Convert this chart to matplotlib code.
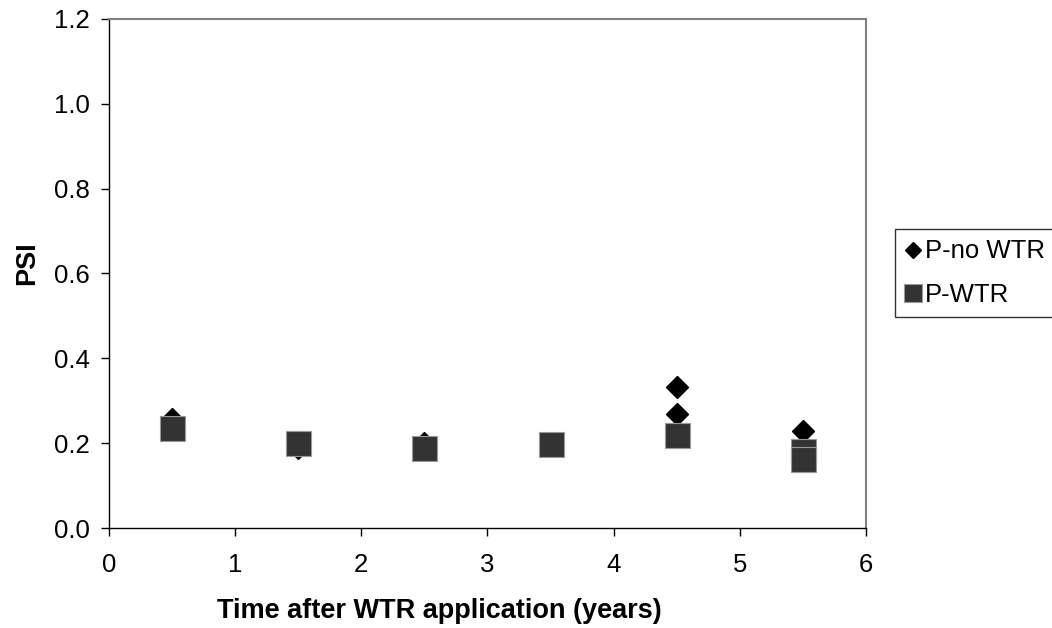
import matplotlib.pyplot as plt

# PSI over time, two treatments (repeat samples share the same time)
time_no_wtr = [0.5, 1.5, 2.5, 3.5, 4.5, 4.5, 5.5]
psi_no_wtr = [0.256, 0.19, 0.20, 0.20, 0.332, 0.27, 0.228]
time_wtr = [0.5, 1.5, 2.5, 3.5, 4.5, 5.5, 5.5]
psi_wtr = [0.235, 0.20, 0.188, 0.198, 0.22, 0.182, 0.163]

plt.rcParams['font.family'] = ['Liberation Sans', 'DejaVu Sans']

fig = plt.figure(figsize=(10.52, 6.28), dpi=100)
ax = fig.add_axes([0.1036, 0.159, 0.7196, 0.811])

ax.plot(time_no_wtr, psi_no_wtr, linestyle='none', marker='D', markersize=11.5,
        color='black', markeredgecolor='black', label='P-no WTR', zorder=3)
ax.plot(time_wtr, psi_wtr, linestyle='none', marker='s', markersize=18,
        color='#333333', markeredgecolor='#999999', markeredgewidth=0.8,
        label='P-WTR', zorder=4)

ax.set_xlim(0, 6)
ax.set_ylim(0, 1.2)
ax.set_xticks(range(0, 7))
ax.set_yticks([0.0, 0.2, 0.4, 0.6, 0.8, 1.0, 1.2])
ax.set_yticklabels(['0.0', '0.2', '0.4', '0.6', '0.8', '1.0', '1.2'])
ax.tick_params(direction='out', length=6, width=1, labelsize=18.5, color='black')
ax.tick_params(axis='x', pad=12)
ax.tick_params(axis='y', pad=8)

for side in ['top', 'right']:
    ax.spines[side].set_color('#808080')
    ax.spines[side].set_linewidth(1.5)
for side in ['left', 'bottom']:
    ax.spines[side].set_color('black')
    ax.spines[side].set_linewidth(1)

ax.set_xlabel('Time after WTR application (years)', fontsize=19.5, fontweight='bold')
ax.set_ylabel('PSI', fontsize=19.5, fontweight='bold')
ax.xaxis.set_label_coords(0.437, -0.137)
ax.yaxis.set_label_coords(-0.091, 0.52)

leg = fig.legend(loc='upper left', bbox_to_anchor=(0.851, 0.635), fontsize=18.5,
                 frameon=True, fancybox=False, edgecolor='black', handlelength=0.6,
                 handletextpad=0.15, borderpad=0.4, labelspacing=0.75, borderaxespad=0,
                 markerscale=0.7)
leg.get_frame().set_linewidth(1)

fig.savefig('out.png', dpi=100)
